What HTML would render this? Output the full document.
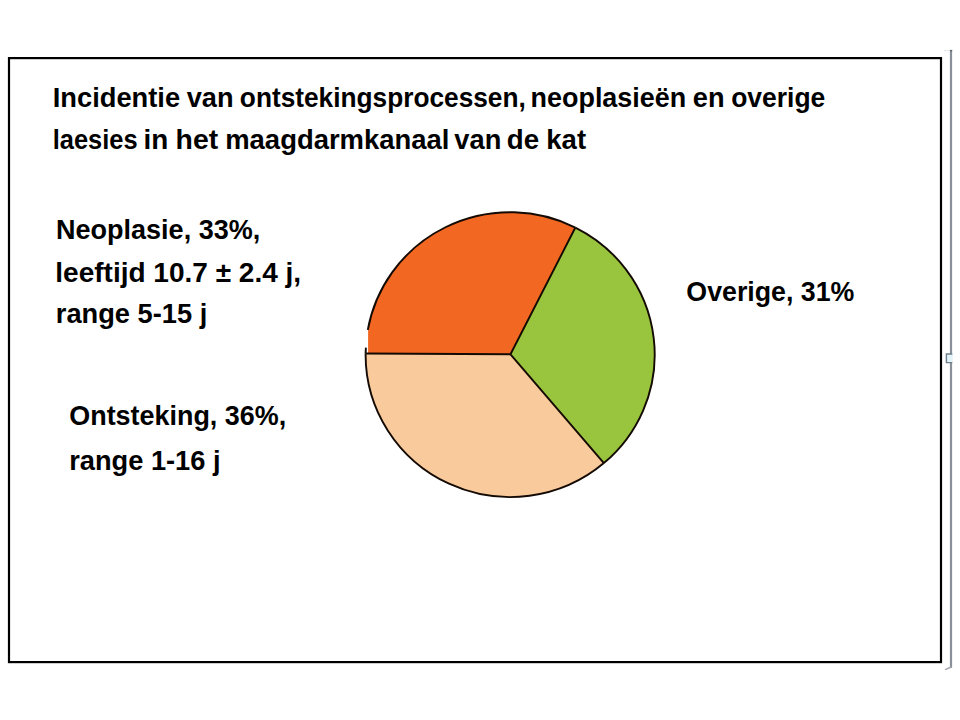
<!DOCTYPE html>
<html><head><meta charset="utf-8"><title>Incidentie</title>
<style>
html,body{margin:0;padding:0;background:#fff;width:960px;height:720px;overflow:hidden}
svg{display:block}
text{font-family:"Liberation Sans",Arial,sans-serif;font-weight:bold;font-size:28.2px;fill:#000}
</style></head><body>
<svg width="960" height="720" viewBox="0 0 960 720">
<rect x="0" y="0" width="960" height="720" fill="#fff"/>
<rect x="9" y="58.1" width="932" height="604" fill="none" stroke="#000" stroke-width="2.2"/>
<line x1="951" y1="50" x2="951" y2="668" stroke="#8a909a" stroke-width="2.2"/>
<path d="M949.8,50.6 H952.2" stroke="#5d636c" stroke-width="1.4"/>
<path d="M944,50.6 H949.8" stroke="#e4e6ea" stroke-width="1"/>
<path d="M951.5,667 L945,669.6" stroke="#a2a6ac" stroke-width="1.4" fill="none"/>
<rect x="946.4" y="354" width="5.9" height="8.6" fill="#e2f3fa"/>
<path d="M952.3,354 H946.4 V362.6 H952.3" stroke="#6f7f8b" stroke-width="1.4" fill="none"/>
<text x="52.81" y="107.1" textLength="127.29" lengthAdjust="spacingAndGlyphs">Incidentie</text>
<text x="186.65" y="107.1" textLength="46.88" lengthAdjust="spacingAndGlyphs">van</text>
<text x="239.85" y="107.1" textLength="285.96" lengthAdjust="spacingAndGlyphs">ontstekingsprocessen,</text>
<text x="530.60" y="107.1" textLength="155.55" lengthAdjust="spacingAndGlyphs">neoplasieën</text>
<text x="692.79" y="107.1" textLength="31.75" lengthAdjust="spacingAndGlyphs">en</text>
<text x="731.16" y="107.1" textLength="94.14" lengthAdjust="spacingAndGlyphs">overige</text>
<text x="52.76" y="148.8" textLength="84.86" lengthAdjust="spacingAndGlyphs">laesies</text>
<text x="143.51" y="148.8" textLength="24.76" lengthAdjust="spacingAndGlyphs">in</text>
<text x="175.59" y="148.8" textLength="42.59" lengthAdjust="spacingAndGlyphs">het</text>
<text x="225.21" y="148.8" textLength="224.27" lengthAdjust="spacingAndGlyphs">maagdarmkanaal</text>
<text x="454.33" y="148.8" textLength="46.96" lengthAdjust="spacingAndGlyphs">van</text>
<text x="506.72" y="148.8" textLength="32.33" lengthAdjust="spacingAndGlyphs">de</text>
<text x="546.25" y="148.8" textLength="39.89" lengthAdjust="spacingAndGlyphs">kat</text>
<text x="56.09" y="239.4" textLength="204.11" lengthAdjust="spacingAndGlyphs">Neoplasie, 33%,</text>
<text x="55.32" y="282.2" textLength="245.79" lengthAdjust="spacingAndGlyphs">leeftijd 10.7 ± 2.4 j,</text>
<text x="55.81" y="323.4" textLength="151.45" lengthAdjust="spacingAndGlyphs">range 5-15 j</text>
<text x="69.26" y="425.2" textLength="216.87" lengthAdjust="spacingAndGlyphs">Ontsteking, 36%,</text>
<text x="69.23" y="469.5" textLength="151.31" lengthAdjust="spacingAndGlyphs">range 1-16 j</text>
<text x="686.35" y="301.3" textLength="168.04" lengthAdjust="spacingAndGlyphs">Overige, 31%</text>
<g stroke="none">
<path d="M510.5,354.3 L603.89,463.08 A144.55,142.45 0 0 1 365.6,353.5 Z" fill="#f9ca9c"/>
<path d="M510.5,354.3 L575.38,227.53 A144.55,142.45 0 0 1 603.89,463.08 Z" fill="#99c43d"/>
<path d="M510.5,354.3 L368.1,353.5 L368.1,329.91 L367.8,329.91 A144.55,142.45 0 0 1 575.38,227.53 Z" fill="#f26722"/>
</g>
<g stroke="#140a04" stroke-width="1.9" fill="none" stroke-linejoin="round" stroke-linecap="butt">
<path d="M603.89,463.08 A144.55,142.45 0 0 1 365.6,353.5"/>
<path d="M575.38,227.53 A144.55,142.45 0 0 1 603.89,463.08"/>
<path d="M367.8,329.91 A144.55,142.45 0 0 1 575.38,227.53"/>
<path d="M365.6,353.5 L510.5,354.3 L575.38,227.53 M510.5,354.3 L603.89,463.08"/>
<path d="M365.9,347.6 L365.6,353.5"/>
</g>
</svg>
</body></html>
